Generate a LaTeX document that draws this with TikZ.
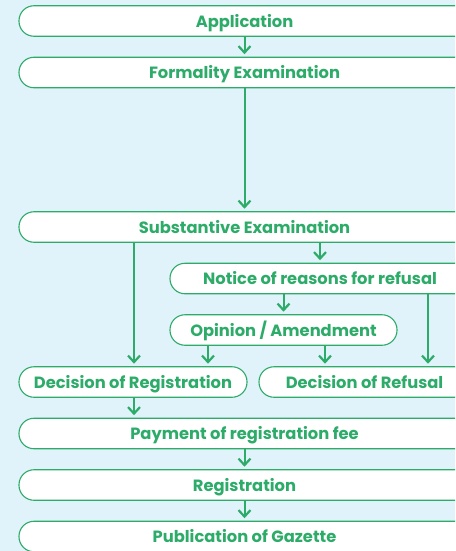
\documentclass[tikz,border=0pt]{standalone}
\usepackage{fontspec}
\setmainfont{Poppins}
\usetikzlibrary{arrows.meta,calc}
\definecolor{bgblue}{HTML}{E0F2FA}
\definecolor{grn}{HTML}{2DAB69}
\tikzset{
  box/.style={draw=grn, line width=1.1pt, fill=white, rounded corners=15pt,
    minimum height=30.5pt, inner sep=0pt, text=grn,
    text height=13pt, text depth=0.5pt,
    font=\bfseries\fontsize{16.3}{18}\selectfont},
  conn/.style={draw=grn, line width=2pt, -{Straight Barb[length=6.5pt,width=12pt,line width=2.2pt]}, shorten >=2.5pt}
}
\begin{document}
\begin{tikzpicture}[x=1pt,y=-1pt]
\fill[bgblue] (0,0) rectangle (455,551);
\useasboundingbox (0,0) rectangle (455,551);
\clip (0,0) rectangle (455,551);
\node[box, minimum width=451pt] (app) at (244.5,21) {Application};
\node[box, minimum width=451pt] (form) at (244.5,72.5) {Formality Examination};
\node[box, minimum width=451pt] (subst) at (244.5,227) {Substantive Examination};
\node[box, minimum width=300pt] (notice) at (320,278.5) {Notice of reasons for refusal};
\node[box, minimum width=227pt] (opinion) at (283.5,330) {Opinion / Amendment};
\node[box, minimum width=228pt] (decreg) at (133,382) {Decision of Registration};
\node[box, minimum width=211pt] (decref) at (364.5,382) {Decision of Refusal};
\node[box, minimum width=451pt] (pay) at (244.5,433.5) {Payment of registration fee};
\node[box, minimum width=451pt] (reg) at (244.5,485) {Registration};
\node[box, minimum width=451pt] (pub) at (244.5,536.5) {Publication of Gazette};
\coordinate (xa) at (134,0);
\coordinate (xb) at (208,0);
\coordinate (xc) at (325,0);
\coordinate (xd) at (428,0);
\draw[conn] (app) -- (form);
\draw[conn] (form) -- (subst);
\draw[conn] (subst.south -| notice) -- (notice);
\draw[conn] (subst.south -| xa) -- (decreg.north -| xa);
\draw[conn] (notice.south -| opinion) -- (opinion);
\draw[conn] (notice.south -| xd) -- (decref.north -| xd);
\draw[conn] (opinion.south -| xb) -- (decreg.north -| xb);
\draw[conn] (opinion.south -| xc) -- (decref.north -| xc);
\draw[conn] (decreg.south -| xa) -- (pay.north -| xa);
\draw[conn] (pay) -- (reg);
\draw[conn] (reg) -- (pub);
\end{tikzpicture}
\end{document}
